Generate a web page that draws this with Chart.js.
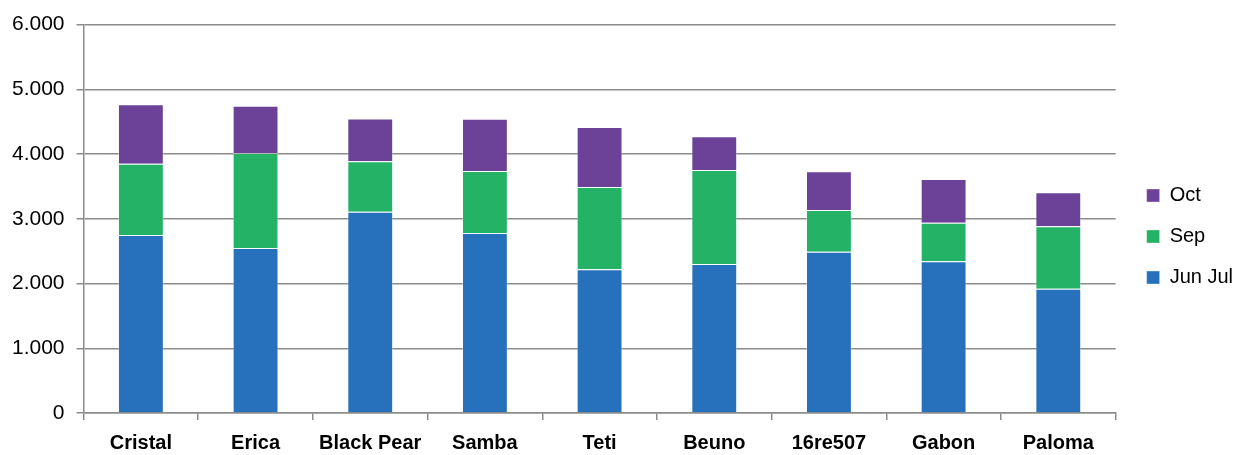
<!DOCTYPE html>
<html>
<head>
<meta charset="utf-8">
<script src="https://cdn.jsdelivr.net/npm/chart.js@4"></script>
<style>
  html, body { margin: 0; padding: 0; background: #fff; }
  #wrap { width: 1235px; height: 455px; }
</style>
</head>
<body>
<div id="wrap"><canvas id="stackChart"></canvas></div>
<script>
// data
const categories = ["Cristal", "Erica", "Black Pear", "Samba", "Teti", "Beuno", "16re507", "Gabon", "Paloma"];
const junJul = [2750, 2550, 3110, 2780, 2220, 2300, 2490, 2345, 1920];
const sep = [1100, 1465, 780, 960, 1270, 1455, 645, 595, 965];
const oct = [920, 730, 660, 805, 930, 520, 600, 675, 525];
const yTicks = [0, 1000, 2000, 3000, 4000, 5000, 6000];

// 6000 -> "6.000"
const fmt = (v) => String(v).replace(/\B(?=(\d{3})+(?!\d))/g, ".");

// move the legend a bit right/down, like the original
const legendNudge = {
  id: "legendNudge",
  afterLayout(chart) {
    const lg = chart.legend;
    lg.left += 10;
    lg.right += 10;
    lg.top += 2;
    lg.bottom += 2;
  },
};

const ctx = document.getElementById("stackChart").getContext("2d");

const stackChart = new Chart(ctx, {
  type: "bar",
  data: {
    labels: categories,
    datasets: [
      { label: "Jun Jul", data: junJul, backgroundColor: "#2771bc" },
      { label: "Sep", data: sep, backgroundColor: "#23b266" },
      { label: "Oct", data: oct, backgroundColor: "#6c4298" },
    ],
  },
  plugins: [legendNudge],
  options: {
    responsive: true,
    maintainAspectRatio: false,
    animation: false,
    datasets: {
      bar: {
        categoryPercentage: 1,
        barPercentage: 0.4,
        borderWidth: 1,
        borderColor: "rgba(255,255,255,0.35)",
      },
    },
    layout: {
      padding: { top: 14, right: 2, bottom: 0, left: 0 },
    },
    plugins: {
      legend: {
        position: "right",
        align: "center",
        reverse: true,
        labels: {
          boxWidth: 13,
          boxHeight: 13,
          padding: 21,
          color: "#000",
          font: { family: "'Liberation Sans', Arial, sans-serif", size: 20 },
        },
      },
      tooltip: { enabled: false },
    },
    scales: {
      x: {
        stacked: true,
        afterFit: (scale) => {
          scale.height -= 11; // labels sit close to the bottom edge
        },
        grid: {
          offset: true,
          drawOnChartArea: false,
          color: "#8c8c8c",
          tickLength: 7,
          lineWidth: 1.5,
        },
        border: { color: "#8c8c8c", width: 1.5 },
        ticks: {
          color: "#000",
          padding: 11,
          font: { family: "'Liberation Sans', Arial, sans-serif", size: 20, weight: "bold" },
        },
      },
      y: {
        stacked: true,
        min: 0,
        max: 6000,
        afterBuildTicks: (axis) => {
          axis.ticks = yTicks.map((v) => ({ value: v }));
        },
        grid: {
          color: "#8c8c8c",
          lineWidth: 1.5,
          tickLength: 7,
        },
        border: { color: "#8c8c8c", width: 1.5 },
        ticks: {
          color: "#000",
          padding: 12,
          font: { family: "'Liberation Sans', Arial, sans-serif", size: 21 },
          callback: (value) => fmt(value),
        },
      },
    },
  },
});
</script>
</body>
</html>
